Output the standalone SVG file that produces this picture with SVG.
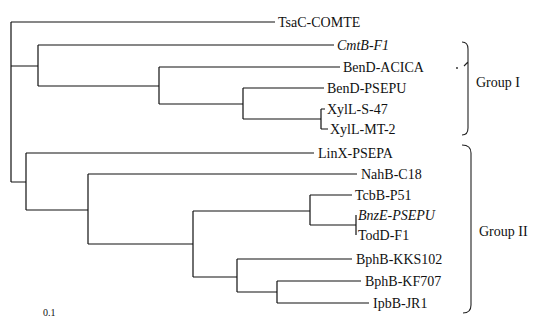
<svg xmlns="http://www.w3.org/2000/svg" width="534" height="320" viewBox="0 0 534 320">
<style>
.e{fill:none;stroke:#111;stroke-width:1.2}
.b{fill:none;stroke:#222;stroke-width:1.1}
text{font-family:"Liberation Serif","Times New Roman",serif;font-size:14px;fill:#111}
.i{font-style:italic}
.s{font-size:10px}
</style>
<rect width="534" height="320" fill="#fff"/>
<g id="connectors">
<path class="e" d="M11,22 V182 M11,22 H275"/>
<path class="e" d="M11,66 H38 M38,45 V86 M38,45 H334"/>
<path class="e" d="M38,86 H159 M159,67 V104 M159,67 H340"/>
<path class="e" d="M159,104 H243 M243,88 V119 M243,88 H324"/>
<path class="e" d="M243,119 H321 M321,109 V129 M321,109 H325 M321,129 H328"/>
<path class="e" d="M11,182 H26 M26,153 V210 M26,153 H314"/>
<path class="e" d="M26,210 H88 M88,174 V244 M88,174 H357"/>
<path class="e" d="M88,244 H193 M193,211 V277"/>
<path class="e" d="M193,211 H310 M310,195 V225 M310,195 H352 M310,225 H356 M356,215 V235"/>
<path class="e" d="M193,277 H237 M237,259 V292 M237,259 H352"/>
<path class="e" d="M237,292 H277 M277,281 V303 M277,281 H361 M277,303 H369"/>
</g>
<g id="TsaC-COMTE"><text x="278" y="27">TsaC-COMTE</text></g>
<g id="CmtB-F1"><text class="i" x="337" y="50">CmtB-F1</text></g>
<g id="BenD-ACICA"><text x="343" y="72">BenD-ACICA</text></g>
<g id="BenD-PSEPU"><text x="327" y="93">BenD-PSEPU</text></g>
<g id="XylL-S-47"><text x="327" y="114">XylL-S-47</text></g>
<g id="XylL-MT-2"><text x="330" y="134">XylL-MT-2</text></g>
<g id="LinX-PSEPA"><text x="318" y="158">LinX-PSEPA</text></g>
<g id="NahB-C18"><text x="361" y="179">NahB-C18</text></g>
<g id="TcbB-P51"><text x="355" y="200">TcbB-P51</text></g>
<g id="BnzE-PSEPU"><text class="i" x="358" y="220">BnzE-PSEPU</text></g>
<g id="TodD-F1"><text x="358" y="240">TodD-F1</text></g>
<g id="BphB-KKS102"><text x="356" y="264">BphB-KKS102</text></g>
<g id="BphB-KF707"><text x="365" y="286">BphB-KF707</text></g>
<g id="IpbB-JR1"><text x="373" y="308">IpbB-JR1</text></g>
<g id="group1">
<path class="b" d="M462,42 Q468,42 468,49 V128 Q468,135 462,135 M468,62 L464,66"/>
<circle cx="457" cy="68" r="0.9" fill="#222"/>
<text x="476" y="87">Group I</text>
</g>
<g id="group2">
<path class="b" d="M462,145 Q471,145 471,153 V305 Q471,313 463,313"/>
<text x="479" y="236">Group II</text>
</g>
<g id="scale"><text class="s" x="43" y="316">0.1</text></g>
</svg>
